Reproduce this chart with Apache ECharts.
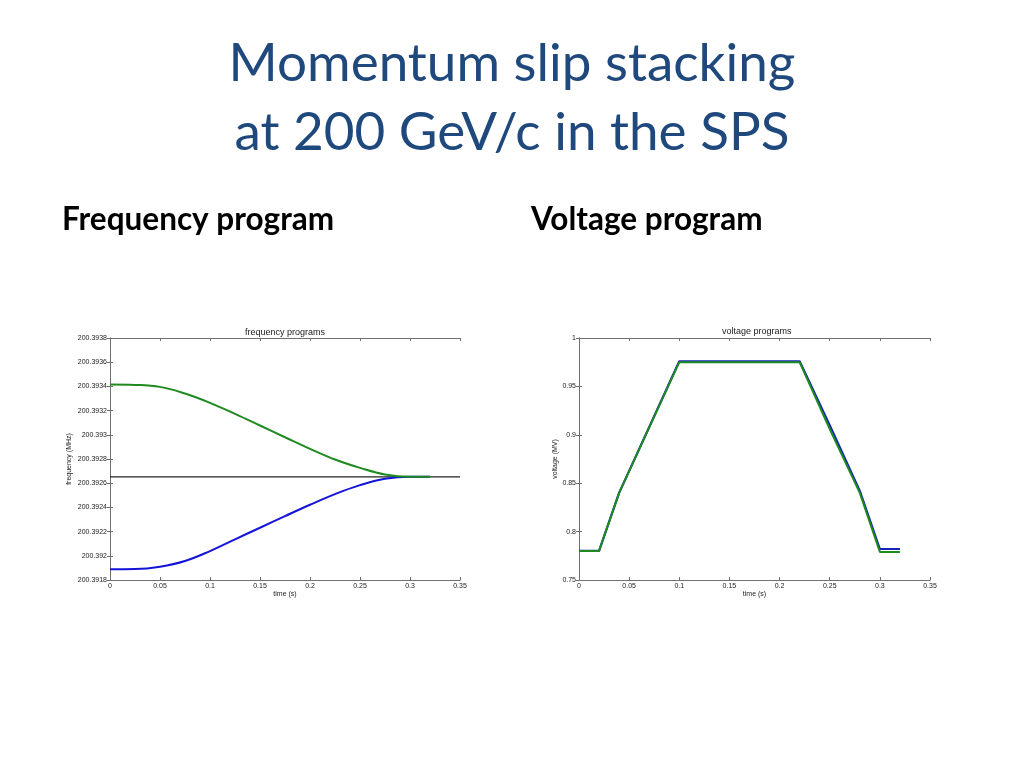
<!DOCTYPE html>
<html><head><meta charset="utf-8">
<script src="https://cdn.jsdelivr.net/npm/echarts@6/dist/echarts.min.js"></script>
<style>html,body{margin:0;padding:0;background:#fff}#c{width:1024px;height:768px}</style>
</head><body><div id="c"></div>
<script>
// Frequency programs (MHz) vs time (s)
const timeF = [0, 0.025, 0.05, 0.075, 0.1, 0.125, 0.15, 0.175, 0.2, 0.225, 0.25, 0.275, 0.3, 0.32];
const greenF = [200.393415, 200.393412, 200.393396, 200.393341, 200.393264, 200.393173, 200.393077, 200.39298, 200.392884, 200.392796, 200.392727, 200.392672, 200.392653, 200.392653];
const blueF = [200.391888, 200.39189, 200.39191, 200.391957, 200.392039, 200.392136, 200.392232, 200.392328, 200.392422, 200.39251, 200.392584, 200.392636, 200.392653, 200.392653];
const refTime = [0, 0.35];
const refF = [200.392653, 200.392653];
// Voltage programs (MV) vs time (s)
const timeV = [0, 0.02, 0.04, 0.1, 0.22, 0.25, 0.28, 0.3, 0.32];
const blueV = [0.78, 0.78, 0.84, 0.976, 0.976, 0.91, 0.842, 0.782, 0.782];
const greenV = [0.78, 0.78, 0.84, 0.975, 0.975, 0.906, 0.84, 0.779, 0.779];

const zip = (xs, ys) => xs.map((x, i) => [x, ys[i]]);
const axCol = '#707070';
const lblFont = {fontSize: 7, color: '#222', fontFamily: 'Liberation Sans'};

function xAxes(gi) {
  return [
    {gridIndex: gi, type: 'value', min: 0, max: 0.35, interval: 0.05, position: 'bottom',
     axisLine: {lineStyle: {color: axCol}}, axisTick: {inside: true, length: 3, lineStyle: {color: axCol}},
     axisLabel: Object.assign({margin: 3, formatter: v => String(+v.toFixed(2))}, lblFont),
     splitLine: {show: false}, name: 'time (s)', nameLocation: 'middle', nameGap: 10,
     nameTextStyle: {fontSize: 7, color: '#222', fontFamily: 'Liberation Sans'}},
    {gridIndex: gi, type: 'value', min: 0, max: 0.35, interval: 0.05, position: 'top',
     axisLine: {lineStyle: {color: axCol}}, axisTick: {inside: true, length: 3, lineStyle: {color: axCol}},
     axisLabel: {show: false}, splitLine: {show: false}}
  ];
}
function yAxes(gi, min, max, interval, fmt, name, gap) {
  return [
    {gridIndex: gi, type: 'value', min: min, max: max, interval: interval, position: 'left',
     axisLine: {show: true, lineStyle: {color: axCol}}, axisTick: {show: true, inside: true, length: 3, lineStyle: {color: axCol}},
     axisLabel: Object.assign({margin: 3, formatter: fmt}, lblFont), splitLine: {show: false},
     name: name, nameLocation: 'middle', nameGap: gap,
     nameTextStyle: {fontSize: 7, color: '#222', fontFamily: 'Liberation Sans'}},
    {gridIndex: gi, type: 'value', min: min, max: max, interval: interval, position: 'right',
     axisLine: {show: true, lineStyle: {color: axCol}}, axisTick: {show: true, inside: true, length: 3, lineStyle: {color: axCol}},
     axisLabel: {show: false}, splitLine: {show: false}}
  ];
}

const chart = echarts.init(document.getElementById('c'));
chart.setOption({
  animation: false,
  backgroundColor: '#fff',
  title: [
    {text: 'Momentum slip stacking', left: 'center', top: 32,
     textStyle: {fontFamily: 'Lato', fontWeight: 'normal', fontSize: 53, color: '#1f497d'}},
    {text: 'at 200 GeV/c in the SPS', left: 'center', top: 101,
     textStyle: {fontFamily: 'Lato', fontWeight: 'normal', fontSize: 53, color: '#1f497d'}},
    {text: 'Frequency program', left: 57, top: 199, textStyle: {fontFamily: 'Lato', fontWeight: 'bold', fontSize: 31.5, color: '#000'}},
    {text: 'Voltage program', left: 526, top: 199, textStyle: {fontFamily: 'Lato', fontWeight: 'bold', fontSize: 31.5, color: '#000'}},
    {text: 'frequency programs', left: 240, top: 323, textStyle: {fontFamily: 'Liberation Sans', fontWeight: 'normal', fontSize: 9, color: '#222'}},
    {text: 'voltage programs', left: 717, top: 322, textStyle: {fontFamily: 'Liberation Sans', fontWeight: 'normal', fontSize: 9, color: '#222'}}
  ],
  grid: [
    {left: 110, top: 338, width: 350, height: 242},
    {left: 579, top: 338, width: 351, height: 242}
  ],
  xAxis: xAxes(0).concat(xAxes(1)),
  yAxis: yAxes(0, 200.3918, 200.3938, 0.0002, v => String(+v.toFixed(4)), 'frequency (MHz)', 37)
    .concat(yAxes(1, 0.75, 1, 0.05, v => String(+v.toFixed(2)), 'voltage (MV)', 19)),
  series: [
    {type: 'line', xAxisIndex: 0, yAxisIndex: 0, data: zip(refTime, refF), showSymbol: false,
     lineStyle: {color: '#222', width: 1.3}},
    {type: 'line', xAxisIndex: 0, yAxisIndex: 0, data: zip(timeF, blueF), showSymbol: false, smooth: 0.4,
     lineStyle: {color: '#1414d8', width: 2}},
    {type: 'line', xAxisIndex: 0, yAxisIndex: 0, data: zip(timeF, greenF), showSymbol: false, smooth: 0.4,
     lineStyle: {color: '#1f8a1f', width: 2}},
    {type: 'line', xAxisIndex: 2, yAxisIndex: 2, data: zip(timeV, blueV), showSymbol: false,
     lineStyle: {color: '#1424b8', width: 2.2}},
    {type: 'line', xAxisIndex: 2, yAxisIndex: 2, data: zip(timeV, greenV), showSymbol: false,
     lineStyle: {color: '#1f8a1f', width: 2}}
  ]
});
</script>
</body></html>
